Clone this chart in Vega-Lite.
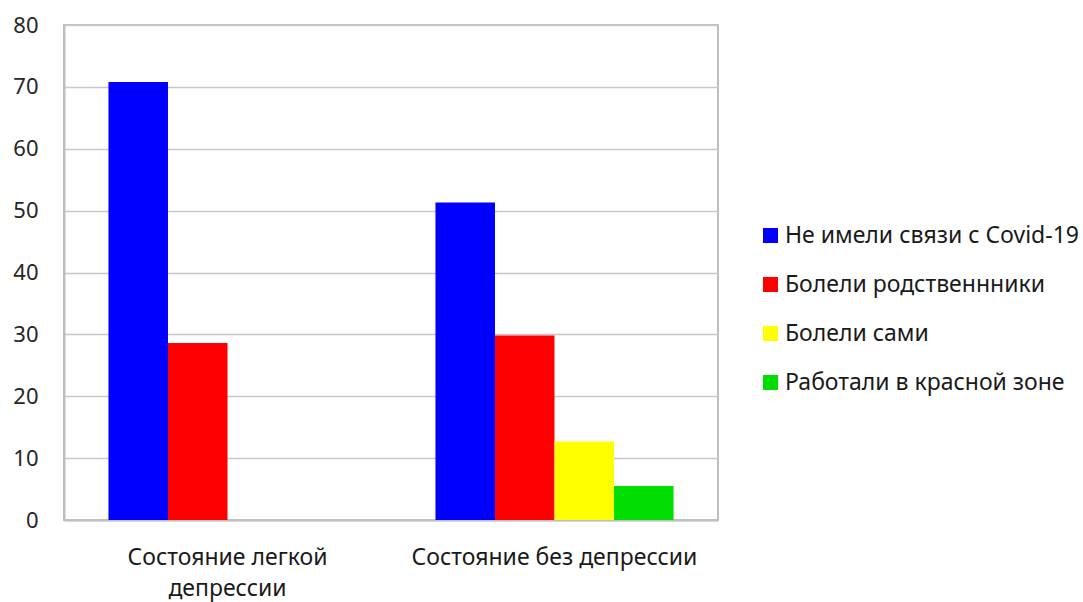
{
  "$schema": "https://vega.github.io/schema/vega-lite/v6.json",
  "width": 654,
  "height": 495,
  "autosize": {"type": "none"},
  "padding": {"left": 64, "top": 25, "right": 365, "bottom": 82},
  "background": "white",
  "config": {
    "font": "Noto Sans",
    "view": {"stroke": "#bfbfbf", "strokeWidth": 2}
  },
  "data": {
    "values": [
      {"state": "Состояние легкой депрессии", "group": "Не имели связи с Covid-19", "value": 70.8},
      {"state": "Состояние легкой депрессии", "group": "Болели родственнники", "value": 28.6},
      {"state": "Состояние без депрессии", "group": "Не имели связи с Covid-19", "value": 51.3},
      {"state": "Состояние без депрессии", "group": "Болели родственнники", "value": 29.8},
      {"state": "Состояние без депрессии", "group": "Болели сами", "value": 12.7},
      {"state": "Состояние без депрессии", "group": "Работали в красной зоне", "value": 5.5}
    ]
  },
  "mark": {"type": "bar"},
  "encoding": {
    "x": {
      "field": "state",
      "type": "nominal",
      "sort": ["Состояние легкой депрессии", "Состояние без депрессии"],
      "scale": {"paddingInner": 0.272, "paddingOuter": 0.136},
      "axis": {
        "title": null,
        "labelAngle": 0,
        "labelFontSize": 23,
        "labelColor": "#1a1a1a",
        "labelPadding": 26,
        "labelLineHeight": 31,
        "labelBaseline": "top",
        "labelLimit": 400,
        "ticks": false,
        "domainColor": "#bfbfbf",
        "domainWidth": 2,
        "labelExpr": "datum.value == 'Состояние легкой депрессии' ? ['Состояние легкой', 'депрессии'] : datum.value"
      }
    },
    "xOffset": {
      "field": "group",
      "type": "nominal",
      "scale": {
        "domain": ["Не имели связи с Covid-19", "Болели родственнники", "Болели сами", "Работали в красной зоне"],
        "paddingInner": 0,
        "paddingOuter": 0
      }
    },
    "y": {
      "field": "value",
      "type": "quantitative",
      "scale": {"domain": [0, 80], "nice": false},
      "axis": {
        "title": null,
        "values": [0, 10, 20, 30, 40, 50, 60, 70, 80],
        "labelFontSize": 22,
        "labelColor": "#262626",
        "labelPadding": 26,
        "ticks": false,
        "domainColor": "#bfbfbf",
        "domainWidth": 2,
        "gridColor": "#c8c8c8",
        "gridWidth": 1.5
      }
    },
    "color": {
      "field": "group",
      "type": "nominal",
      "scale": {
        "domain": ["Не имели связи с Covid-19", "Болели родственнники", "Болели сами", "Работали в красной зоне"],
        "range": ["#0000ff", "#ff0000", "#ffff00", "#00dd00"]
      },
      "legend": {
        "title": null,
        "orient": "none",
        "legendX": 695,
        "legendY": 199,
        "symbolType": "square",
        "symbolSize": 225,
        "symbolStrokeWidth": 0,
        "symbolOpacity": 1,
        "labelFontSize": 23,
        "labelColor": "#1a1a1a",
        "labelOffset": 3,
        "rowPadding": 25,
        "labelLimit": 400
      }
    }
  }
}
